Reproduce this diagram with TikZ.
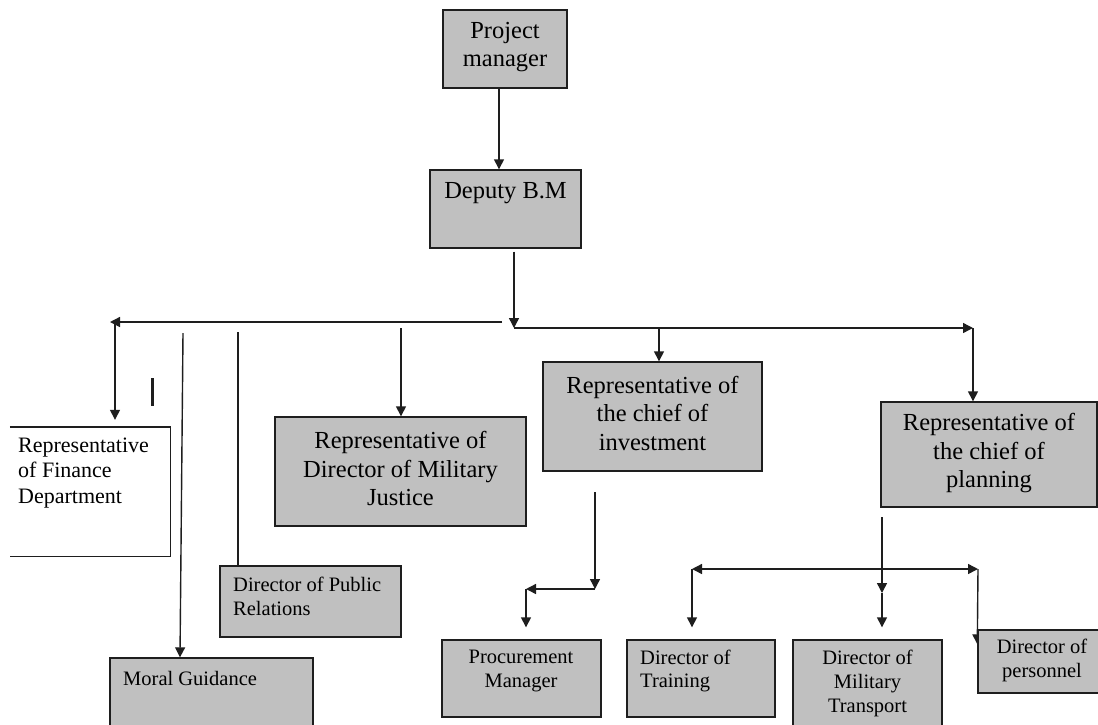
\documentclass[tikz,border=0pt]{standalone}
\usepackage{fontspec}
\setmainfont{Liberation Serif}
\usetikzlibrary{arrows.meta,backgrounds,calc}
\definecolor{boxgray}{RGB}{192,192,192}
\definecolor{ink}{RGB}{30,30,30}
\begin{document}
\begin{tikzpicture}[x=1pt,y=-1pt,
  gbox/.style={draw=ink,line width=1.4pt,fill=boxgray,inner sep=0pt},
  conn/.style={draw=ink,line width=1.4pt},
  arr/.style={conn,-{Triangle[length=10pt,width=10pt]}},
  darr/.style={conn,{Triangle[length=10pt,width=10pt]}-{Triangle[length=10pt,width=10pt]}},
  bigT/.style={font=\fontsize{24.5}{28.5}\selectfont,align=center,inner sep=0pt,text=black},
  finT/.style={font=\fontsize{22}{25.5}\selectfont,align=left,inner sep=0pt,text=black,anchor=west},
  smallC/.style={font=\fontsize{20.5}{24}\selectfont,align=center,inner sep=0pt,text=black},
  smallL/.style={font=\fontsize{20.5}{23.5}\selectfont,align=left,inner sep=0pt,text=black,anchor=west}]
\useasboundingbox (0,0) rectangle (1098,724);

% boxes
\node[gbox,minimum width=124pt,minimum height=78pt] (pm) at (505,49) {};
\node[gbox,minimum width=151pt,minimum height=78pt] (dep) at (505.5,209) {};
\node[inner sep=0pt,minimum width=160pt,minimum height=129pt] (fin) at (90,491.5) {};
\draw[draw=ink,line width=1.4pt] (fin.north west) -- (fin.north east) -- (fin.south east) -- (fin.south west);
\node[gbox,minimum width=251pt,minimum height=109pt] (mj) at (400.5,471.5) {};
\node[gbox,minimum width=219pt,minimum height=109pt] (inv) at (652.5,416.5) {};
\node[gbox,minimum width=216pt,minimum height=105pt] (plan) at (989,454.5) {};
\node[gbox,minimum width=181pt,minimum height=71pt] (pr) at (310.5,601.5) {};
\node[gbox,minimum width=203pt,minimum height=84pt] (mg) at (211.5,700) {};
\node[gbox,minimum width=159pt,minimum height=77pt] (proc) at (521.5,678.5) {};
\node[gbox,minimum width=148pt,minimum height=77pt] (tr) at (701,678.5) {};
\node[gbox,minimum width=149pt,minimum height=100pt] (mt) at (867.5,690) {};
\node[gbox,minimum width=132pt,minimum height=63pt] (per) at (1044,661.5) {};

% texts
\node[bigT] (pmT) at (505,47) {Project\\manager};
\node[bigT] (depT) at (505.5,193) {Deputy B.M};
\node[bigT] (mjT) at (400.5,468.5) {Representative of\\Director of Military\\Justice};
\node[bigT] (invT) at (652.5,413) {Representative of\\the chief of\\investment};
\node[bigT] (planT) at (989,453.5) {Representative of\\the chief of\\planning};
\node[finT] (finTx) at (18,473) {Representative\\of Finance\\Department};
\node[smallL] (prT) at (233,596.5) {Director of Public\\Relations};
\node[smallL] (mgT) at (123,678) {Moral Guidance};
\node[smallC] (procT) at (521,671) {Procurement\\Manager};
\node[smallL] (trT) at (640,671) {Director of\\Training};
\node[smallC] (mtT) at (867.5,683) {Director of\\Military\\Transport};
\node[smallC] (perT) at (1042,660.5) {Director of\\personnel};

% junction coordinates
\coordinate (jR) at (514,328);
\coordinate (jRR) at (973,328);
\coordinate (jInv) at (659,328);
\coordinate (jL) at (502,322);
\coordinate (jLL) at (110,322);
\coordinate (jFin) at (115,322);
\coordinate (mgTop) at (183,333);
\coordinate (prTop) at (238,332);
\coordinate (mjTop) at (401,328);
\coordinate (i1) at (595,492);
\coordinate (i2) at (595,589);
\coordinate (i3) at (526,589);
\coordinate (p1) at (882,517);
\coordinate (p3) at (882,593);
\coordinate (hL) at (692,569);
\coordinate (hR) at (978,569);

\begin{scope}[on background layer]
\fill[white] (0,0) rectangle (1098,724);
\draw[arr] ($(pm.south)+(-6,0)$) -- ($(dep.north)+(-6.5,0)$);
\draw[arr] ($(dep.south)+(8.5,3)$) -- (jR);
\draw[arr] (jR) -- (jRR);
\draw[arr] (jRR) -- (plan.north -| jRR);
\draw[arr] (jInv) -- (inv.north -| jInv);
\draw[arr] (jL) -- (jLL);
\draw[arr] (jFin) -- ($(fin.north -| jFin)+(0,-7)$);
\draw[arr] (mgTop) -- ($(mg.north)+(-31.5,0)$);
\draw[conn] (prTop) -- (pr.north -| prTop);
\draw[arr] (mjTop) -- (mj.north -| mjTop);
\draw[arr] (i1) -- (i2);
\draw[arr] (i2) -- (i3);
\draw[arr] (i3) -- ($(proc.north -| i3)+(0,-12)$);
\draw[arr] (p1) -- (p3);
\draw[arr] (p3) -- ($(mt.north -| p3)+(0,-12)$);
\draw[darr] (hL) -- (hR);
\draw[arr] (hL) -- ($(tr.north -| hL)+(0,-12)$);
\draw[arr] (hR) -- ($(per.north west)+(0,15)$);
\end{scope}

% stray mark
\draw[ink,line width=3pt] (152,378) -- (152,406);
\end{tikzpicture}
\end{document}
